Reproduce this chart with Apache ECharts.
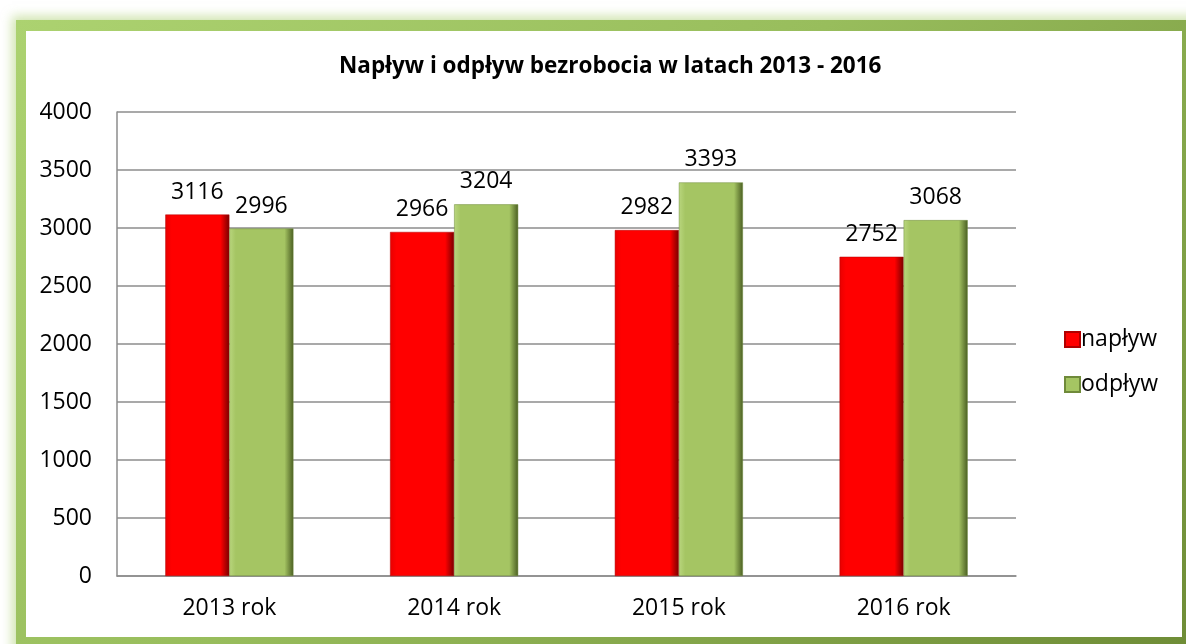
<!DOCTYPE html>
<html>
<head>
<meta charset="utf-8">
<script src="https://cdn.jsdelivr.net/npm/echarts@6/dist/echarts.min.js"></script>
<style>
  html, body { margin: 0; padding: 0; width: 1186px; height: 644px; overflow: hidden; background: #fff; }
  /* ramka wykresu */
  #frame {
    position: absolute; left: 16px; top: 20px; width: 1180px; height: 634px;
    background: linear-gradient(135deg, #acd270 0%, #98bd5c 45%, #6e8c36 100%);
    box-shadow: 0 0 10px 4px rgba(170, 205, 110, 0.55);
  }
  #inner { position: absolute; left: 26px; top: 31px; width: 1156px; height: 606px; background: #fff; }
  #main { position: absolute; left: 0; top: 0; width: 1186px; height: 644px; }
</style>
</head>
<body>
<div id="frame"></div>
<div id="inner"></div>
<div id="main"></div>
<script>
// dane
var lata = ['2013 rok', '2014 rok', '2015 rok', '2016 rok'];
var naplyw = [3116, 2966, 2982, 2752];
var odplyw = [2996, 3204, 3393, 3068];
var seriesNames = ['napływ', 'odpływ'];

var font = '"Open Sans", sans-serif';

function bevel(light, main, dark) {
	return {
		type: 'linear', x: 0, y: 0, x2: 1, y2: 0,
		colorStops: [
			{ offset: 0, color: light },
			{ offset: 0.1, color: main },
			{ offset: 0.86, color: main },
			{ offset: 1, color: dark }
		]
	};
}

var chart = echarts.init(document.getElementById('main'));
chart.setOption({
	backgroundColor: 'transparent',
	animation: false,
	textStyle: { fontFamily: font },
	title: {
		text: 'Napływ i odpływ bezrobocia w latach 2013 - 2016',
		left: 334,
		top: 50,
		textStyle: { fontFamily: font, fontSize: 22.5, fontWeight: 'bold', color: '#000' }
	},
	legend: {
		orient: 'vertical',
		left: 1059,
		top: 323,
		itemWidth: 15,
		itemHeight: 15,
		itemGap: 22,
		icon: 'rect',
		textStyle: { fontFamily: font, fontSize: 23, color: '#000', padding: [0, 0, 0, -4] },
		data: seriesNames
	},
	grid: { left: 117, right: 170, top: 112, bottom: 68, containLabel: false },
	xAxis: {
		type: 'category',
		data: lata,
		axisLine: { lineStyle: { color: '#8c8c8c', width: 1.5 } },
		axisTick: { show: false },
		axisLabel: { fontFamily: font, fontSize: 23, color: '#000', margin: 21 }
	},
	yAxis: {
		type: 'value',
		min: 0,
		max: 4000,
		interval: 500,
		axisLine: { show: true, lineStyle: { color: '#8c8c8c', width: 1.5 } },
		axisTick: { show: false },
		splitLine: { lineStyle: { color: '#8c8c8c', width: 1.5 } },
		axisLabel: {
			fontFamily: font, fontSize: 23, color: '#000', margin: 25,
			formatter: function (v) { return String(v); }
		}
	},
	series: [
		{
			name: seriesNames[0],
			type: 'bar',
			data: naplyw,
			barGap: '0%',
			barCategoryGap: '43%',
			itemStyle: {
				color: bevel('#e80000', '#ff0000', '#780000'),
				borderColor: '#b00000',
				borderWidth: 0.5
			},
			label: { show: true, position: 'top', distance: 11, fontFamily: font, fontSize: 23, color: '#000' }
		},
		{
			name: seriesNames[1],
			type: 'bar',
			data: odplyw,
			itemStyle: {
				color: bevel('#b9d67e', '#a5c563', '#4a5e22'),
				borderColor: '#6f8a3a',
				borderWidth: 0.5
			},
			label: { show: true, position: 'top', distance: 11, fontFamily: font, fontSize: 23, color: '#000' }
		}
	]
});
</script>
</body>
</html>
